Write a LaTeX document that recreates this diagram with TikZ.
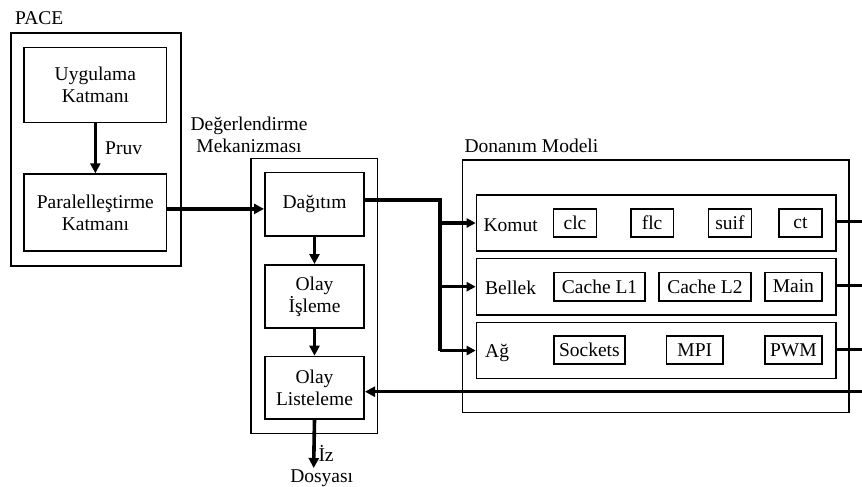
\documentclass[tikz,border=0pt]{standalone}
\usepackage{fontspec}
\setmainfont{Liberation Serif}
\usetikzlibrary{arrows.meta}
\begin{document}
\begin{tikzpicture}[x=1pt,y=-1pt,
  every node/.style={font=\fontsize{19.5}{22}\selectfont, inner sep=0pt},
  frame/.style={draw, line width=1.7pt, anchor=north west, align=center},
  item/.style={draw, line width=1.5pt, anchor=north west},
  lbl/.style={anchor=base west},
  fat/.style={line width=3.6pt, -{Triangle[length=10pt,width=10pt]}},
  branch/.style={line width=3.3pt, -{Triangle[length=9pt,width=9pt]}},
  feed/.style={line width=3.2pt},
  wire/.style={line width=2.6pt},
  wirefat/.style={line width=3.4pt}]
\useasboundingbox (0,0) rectangle (862,487);

% PACE block
\node[lbl] (pacelbl) at (15,25) {PACE};
\node[frame, minimum width=170pt, minimum height=232.7pt] (pace) at (10,32.3) {};
\node[frame, minimum width=142.4pt, minimum height=75pt] (uyg) at (23.3,46.7) {Uygulama\\Katmanı};
\node[frame, minimum width=142.4pt, minimum height=76.7pt] (par) at (23.3,173.3) {Paralelleştirme\\Katmanı};
\draw[fat] (uyg.south) -- (par.north);
\node[lbl] (pruv) at (105,154) {Pruv};

% evaluation engine
\node[anchor=base] (deglab1) at (249,130.7) {Değerlendirme};
\node[anchor=base] (deglab2) at (249,152.3) {Mekanizması};
\node[frame, minimum width=126.7pt, minimum height=275pt] (deg) at (250,157.7) {};
\node[frame, minimum width=99.3pt, minimum height=63.3pt] (dag) at (264,171.7) {Dağıtım};
\node[frame, minimum width=99.3pt, minimum height=63.3pt] (olayi) at (264,264) {Olay\\İşleme};
\node[frame, minimum width=99.3pt, minimum height=62.6pt] (olayl) at (264,355.7) {Olay\\Listeleme};
\draw[fat] (olayi.north |- dag.south) -- (olayi.north);
\draw[fat] (olayi.south) -- (olayl.north);
\coordinate (dagin) at ([yshift=-4.7pt]dag.west);
\draw[fat] (par.east |- dagin) -- (dagin);

% trace output
\coordinate (iz) at (313.65,468);
\draw[fat] (olayl.south) -- (iz);
\node[lbl] (izlbl) at (318.3,461.7) {İz};
\node[anchor=base] (dosya) at (321.7,482.7) {Dosyası};

% hardware model
\node[lbl] (donlbl) at (464.3,152.3) {Donanım Modeli};
\node[frame, minimum width=386.3pt, minimum height=252.4pt] (don) at (461.7,159.3) {};
\node[frame, minimum width=359.3pt, minimum height=55.7pt] (komut) at (475.7,194.3) {};
\node[frame, minimum width=359.3pt, minimum height=56.3pt] (bellek) at (475.7,257.7) {};
\node[frame, minimum width=359.3pt, minimum height=56pt] (ag) at (475.7,321.7) {};
\node[lbl] (komutlbl) at (483.3,231) {Komut};
\node[lbl] (bellekl) at (485,294) {Bellek};
\node[lbl] (aglbl) at (485,357.3) {Ağ};

\node[item, minimum width=43pt, minimum height=27.7pt] (clc) at (552.7,208.3) {clc};
\node[item, minimum width=42.7pt, minimum height=27.7pt] (flc) at (630,208.3) {flc};
\node[item, minimum width=43pt, minimum height=27.7pt] (suif) at (707.7,208.3) {suif};
\node[item, minimum width=42.7pt, minimum height=27.7pt] (ct) at (778.3,208.3) {ct};
\node[item, minimum width=91pt, minimum height=28.3pt] (cl1) at (553.3,271.7) {Cache L1};
\node[item, minimum width=91.7pt, minimum height=28.3pt] (cl2) at (658.3,271.7) {Cache L2};
\node[item, minimum width=56.7pt, minimum height=28.3pt] (mainm) at (764.3,271.7) {Main};
\node[item, minimum width=70.7pt, minimum height=28.3pt] (sock) at (553.3,335) {Sockets};
\node[item, minimum width=56.6pt, minimum height=28.3pt] (mpi) at (665.7,335) {MPI};
\node[item, minimum width=56.7pt, minimum height=28.3pt] (pwm) at (764.3,335) {PWM};

% dispatch to the three model rows
\coordinate (trunk) at (440,200);
\draw[feed] (dag.east |- trunk) -- (trunk) -- (trunk |- ag.west);
\draw[branch] (trunk |- komut.west) -- (komut.west);
\draw[branch] (trunk |- bellek.west) -- (bellek.west);
\draw[branch] (trunk |- ag.west) -- (ag.west);

% outputs of the rows
\coordinate (kout) at (862,221.7);
\coordinate (bout) at (862,285.7);
\coordinate (aout) at (862,349.3);
\draw[wire] (komut.east |- kout) -- (kout);
\draw[wirefat] (bellek.east |- bout) -- (bout);
\draw[wire] (ag.east |- aout) -- (aout);

% feedback into the event list
\coordinate (fb) at (862,391.7);
\draw[line width=3.4pt, -{Triangle[length=10pt,width=10pt]}] (fb) -- (olayl.east |- fb);
\end{tikzpicture}
\end{document}
